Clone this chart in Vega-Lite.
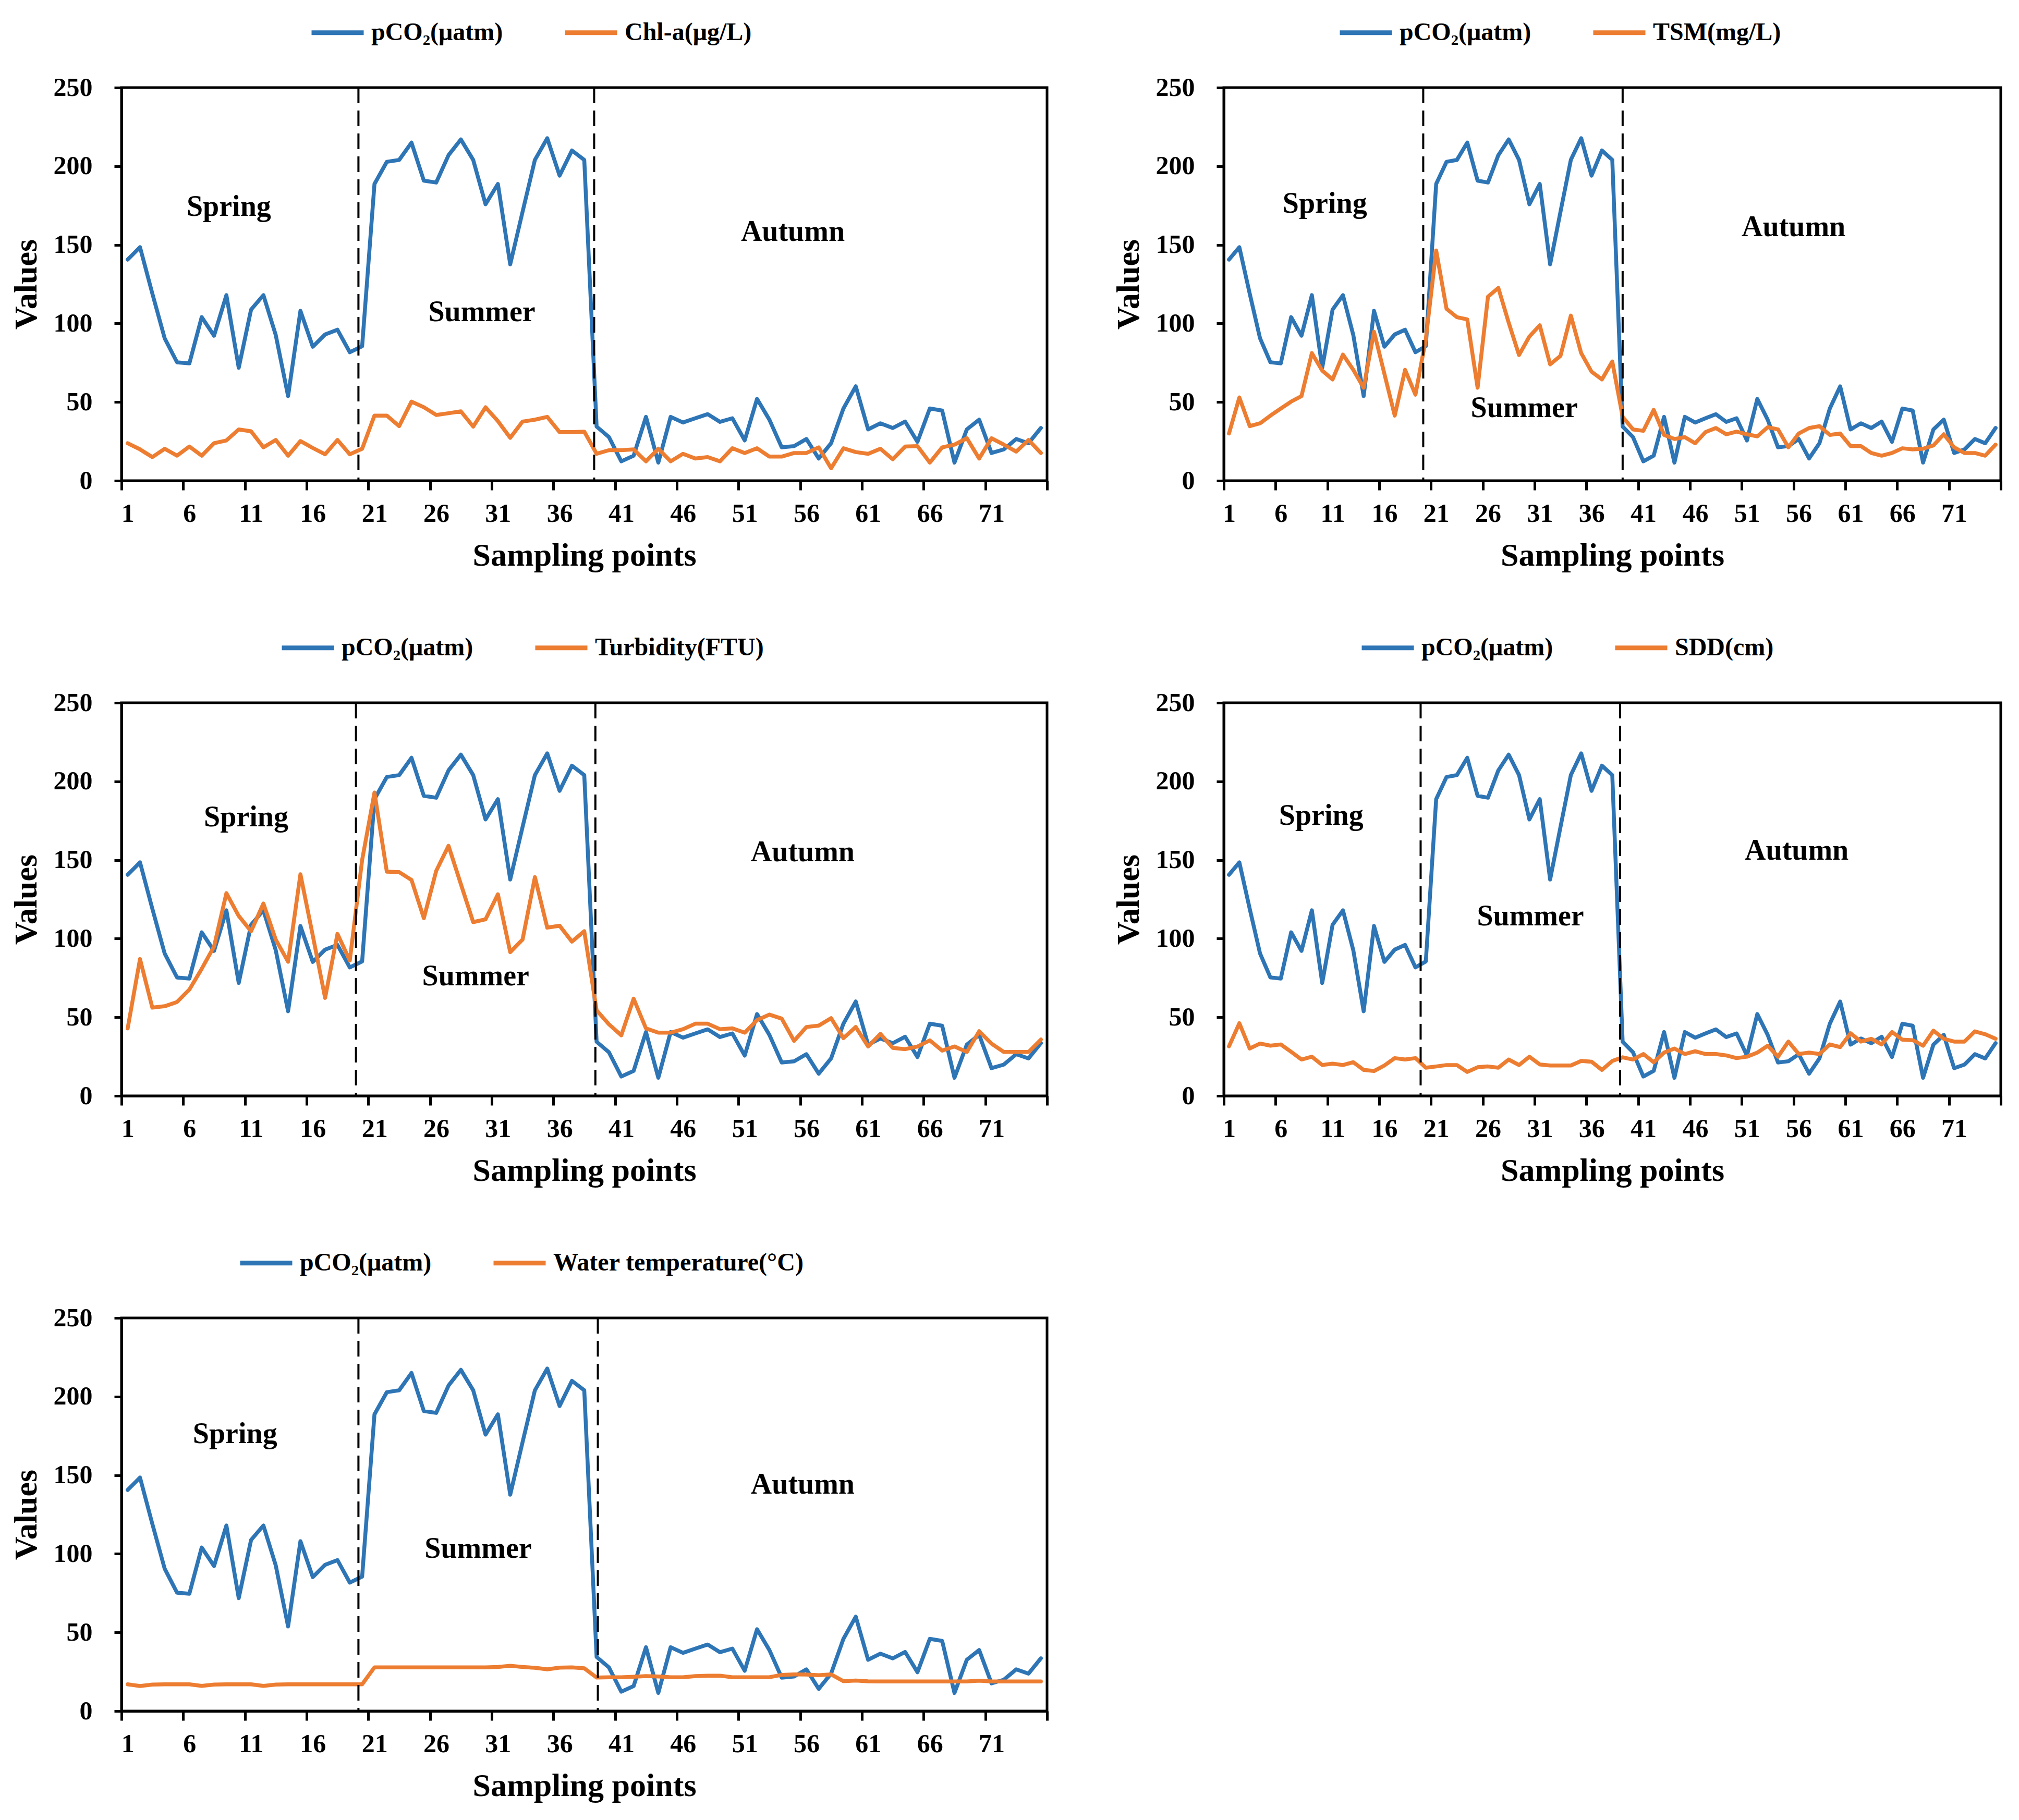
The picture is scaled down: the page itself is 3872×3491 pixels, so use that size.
{
  "$schema": "https://vega.github.io/schema/vega-lite/v6.json",
  "background": "white",
  "padding": {"left": 16, "top": 5, "right": 25, "bottom": 15},
  "datasets": {
    "main": [
      {"point": 1, "pco2": 140.6, "chla": 23.8, "tsm": 30, "turb": 42.9, "sdd": 31.5, "wt": 17},
      {"point": 2, "pco2": 148.5, "chla": 19.9, "tsm": 52.9, "turb": 87, "sdd": 46.2, "wt": 15.9},
      {"point": 3, "pco2": 119, "chla": 15, "tsm": 34.7, "turb": 56.1, "sdd": 30.1, "wt": 16.8},
      {"point": 4, "pco2": 90.5, "chla": 20.3, "tsm": 36.5, "turb": 57, "sdd": 33.3, "wt": 17},
      {"point": 5, "pco2": 75.3, "chla": 15.9, "tsm": 41.4, "turb": 59.7, "sdd": 31.9, "wt": 17},
      {"point": 6, "pco2": 74.6, "chla": 21.7, "tsm": 45.9, "turb": 67.6, "sdd": 32.7, "wt": 17},
      {"point": 7, "pco2": 104, "chla": 15.9, "tsm": 50.3, "turb": 80.8, "sdd": 28, "wt": 16},
      {"point": 8, "pco2": 92.2, "chla": 23.8, "tsm": 53.8, "turb": 95, "sdd": 23.1, "wt": 16.8},
      {"point": 9, "pco2": 118, "chla": 25.6, "tsm": 81.1, "turb": 128.9, "sdd": 24.9, "wt": 17},
      {"point": 10, "pco2": 71.8, "chla": 32.6, "tsm": 70, "turb": 114.4, "sdd": 19.6, "wt": 17},
      {"point": 11, "pco2": 108.8, "chla": 31.4, "tsm": 64.4, "turb": 104.7, "sdd": 20.5, "wt": 17},
      {"point": 12, "pco2": 118, "chla": 21.2, "tsm": 80.2, "turb": 122.3, "sdd": 19.6, "wt": 16},
      {"point": 13, "pco2": 92.6, "chla": 25.9, "tsm": 70.5, "turb": 99.4, "sdd": 21.4, "wt": 16.8},
      {"point": 14, "pco2": 53.8, "chla": 15.9, "tsm": 59.1, "turb": 85.3, "sdd": 16.5, "wt": 17},
      {"point": 15, "pco2": 108, "chla": 25.2, "tsm": 94.7, "turb": 140.9, "sdd": 15.8, "wt": 17},
      {"point": 16, "pco2": 85.2, "chla": 20.8, "tsm": 68, "turb": 102, "sdd": 19.3, "wt": 17},
      {"point": 17, "pco2": 93, "chla": 16.8, "tsm": 41.4, "turb": 62.3, "sdd": 24, "wt": 17},
      {"point": 18, "pco2": 96, "chla": 25.9, "tsm": 70.5, "turb": 103, "sdd": 23.1, "wt": 17},
      {"point": 19, "pco2": 81.7, "chla": 16.8, "tsm": 54.7, "turb": 86.1, "sdd": 24, "wt": 17},
      {"point": 20, "pco2": 85.5, "chla": 20.3, "tsm": 90, "turb": 150, "sdd": 17.9, "wt": 17},
      {"point": 21, "pco2": 188.7, "chla": 41.4, "tsm": 146.4, "turb": 192.9, "sdd": 18.7, "wt": 27.8},
      {"point": 22, "pco2": 202.8, "chla": 41.4, "tsm": 109.3, "turb": 142.6, "sdd": 19.6, "wt": 27.8},
      {"point": 23, "pco2": 204, "chla": 34.7, "tsm": 104, "turb": 142.3, "sdd": 19.6, "wt": 27.8},
      {"point": 24, "pco2": 215, "chla": 50.3, "tsm": 102.6, "turb": 137.3, "sdd": 15.2, "wt": 27.8},
      {"point": 25, "pco2": 190.8, "chla": 46.7, "tsm": 59.1, "turb": 113, "sdd": 18.2, "wt": 27.8},
      {"point": 26, "pco2": 189.6, "chla": 41.8, "tsm": 117, "turb": 143, "sdd": 18.7, "wt": 27.8},
      {"point": 27, "pco2": 207, "chla": 42.9, "tsm": 122.6, "turb": 159, "sdd": 17.9, "wt": 27.8},
      {"point": 28, "pco2": 217, "chla": 44.1, "tsm": 100.5, "turb": 134.7, "sdd": 23.1, "wt": 27.8},
      {"point": 29, "pco2": 204, "chla": 34.4, "tsm": 79.9, "turb": 110.5, "sdd": 19.6, "wt": 27.8},
      {"point": 30, "pco2": 175.8, "chla": 46.7, "tsm": 91.7, "turb": 112.3, "sdd": 24.9, "wt": 27.8},
      {"point": 31, "pco2": 188.7, "chla": 37.9, "tsm": 98.8, "turb": 128.2, "sdd": 20, "wt": 28},
      {"point": 32, "pco2": 137.6, "chla": 27.3, "tsm": 74, "turb": 91.4, "sdd": 19.3, "wt": 28.8},
      {"point": 33, "pco2": 171, "chla": 37.6, "tsm": 79.4, "turb": 99.4, "sdd": 19.3, "wt": 28},
      {"point": 34, "pco2": 204, "chla": 38.8, "tsm": 105, "turb": 139.1, "sdd": 19.3, "wt": 27.5},
      {"point": 35, "pco2": 217.8, "chla": 40.6, "tsm": 81.1, "turb": 107, "sdd": 22.2, "wt": 26.5},
      {"point": 36, "pco2": 194, "chla": 30.9, "tsm": 69.3, "turb": 108.2, "sdd": 21.7, "wt": 27.6},
      {"point": 37, "pco2": 210, "chla": 30.9, "tsm": 64.4, "turb": 98.1, "sdd": 16.5, "wt": 27.8},
      {"point": 38, "pco2": 204, "chla": 31.2, "tsm": 75.8, "turb": 104.7, "sdd": 22.2, "wt": 27.2},
      {"point": 39, "pco2": 34.4, "chla": 17.1, "tsm": 40.6, "turb": 54.4, "sdd": 24.5, "wt": 21.3},
      {"point": 40, "pco2": 27.7, "chla": 19.4, "tsm": 32.6, "turb": 45.5, "sdd": 23.1, "wt": 21.5},
      {"point": 41, "pco2": 12.3, "chla": 19.4, "tsm": 31.7, "turb": 38.5, "sdd": 26.6, "wt": 21.5},
      {"point": 42, "pco2": 15.9, "chla": 19.9, "tsm": 45, "turb": 61.8, "sdd": 21.4, "wt": 21.8},
      {"point": 43, "pco2": 40.6, "chla": 12.3, "tsm": 29.1, "turb": 42.9, "sdd": 27.5, "wt": 22.2},
      {"point": 44, "pco2": 11.5, "chla": 20.3, "tsm": 26.5, "turb": 40.2, "sdd": 30.1, "wt": 22},
      {"point": 45, "pco2": 40.6, "chla": 12.3, "tsm": 27.7, "turb": 40.2, "sdd": 26.6, "wt": 21.5},
      {"point": 46, "pco2": 37, "chla": 17.1, "tsm": 23.8, "turb": 42.4, "sdd": 28.4, "wt": 21.5},
      {"point": 47, "pco2": 39.7, "chla": 14.1, "tsm": 30.9, "turb": 45.9, "sdd": 26.6, "wt": 22.2},
      {"point": 48, "pco2": 42.3, "chla": 15, "tsm": 33.5, "turb": 45.9, "sdd": 26.6, "wt": 22.5},
      {"point": 49, "pco2": 37.4, "chla": 12.3, "tsm": 29.5, "turb": 42.4, "sdd": 25.7, "wt": 22.5},
      {"point": 50, "pco2": 39.7, "chla": 20.6, "tsm": 31.2, "turb": 42.9, "sdd": 24, "wt": 21.5},
      {"point": 51, "pco2": 25.6, "chla": 17.6, "tsm": 29.5, "turb": 40.2, "sdd": 24.9, "wt": 21.5},
      {"point": 52, "pco2": 52, "chla": 20.6, "tsm": 28.2, "turb": 48.2, "sdd": 27.5, "wt": 21.5},
      {"point": 53, "pco2": 38.8, "chla": 15.3, "tsm": 34, "turb": 51.7, "sdd": 31.9, "wt": 21.5},
      {"point": 54, "pco2": 21.2, "chla": 15.3, "tsm": 32.6, "turb": 49.1, "sdd": 24.9, "wt": 23},
      {"point": 55, "pco2": 22, "chla": 17.6, "tsm": 21.2, "turb": 35, "sdd": 34.5, "wt": 23.3},
      {"point": 56, "pco2": 26.5, "chla": 17.6, "tsm": 30, "turb": 43.8, "sdd": 26.6, "wt": 23.2},
      {"point": 57, "pco2": 14.1, "chla": 21.2, "tsm": 33.5, "turb": 44.7, "sdd": 27.5, "wt": 22.8},
      {"point": 58, "pco2": 23.8, "chla": 7.9, "tsm": 34.7, "turb": 49.4, "sdd": 26.6, "wt": 23.3},
      {"point": 59, "pco2": 45.9, "chla": 20.6, "tsm": 29.1, "turb": 36.7, "sdd": 32.7, "wt": 19},
      {"point": 60, "pco2": 60, "chla": 18.2, "tsm": 30, "turb": 43.8, "sdd": 31, "wt": 19.4},
      {"point": 61, "pco2": 32.6, "chla": 17.1, "tsm": 22, "turb": 31.4, "sdd": 39.8, "wt": 18.9},
      {"point": 62, "pco2": 36.5, "chla": 20.3, "tsm": 22, "turb": 39.4, "sdd": 34.5, "wt": 18.8},
      {"point": 63, "pco2": 33.5, "chla": 13.6, "tsm": 17.6, "turb": 30.5, "sdd": 36.3, "wt": 18.8},
      {"point": 64, "pco2": 37.6, "chla": 21.7, "tsm": 15.9, "turb": 29.7, "sdd": 32.7, "wt": 18.8},
      {"point": 65, "pco2": 24.7, "chla": 22, "tsm": 17.6, "turb": 31.4, "sdd": 40.6, "wt": 18.8},
      {"point": 66, "pco2": 45.9, "chla": 11.5, "tsm": 20.6, "turb": 35.3, "sdd": 35.7, "wt": 18.8},
      {"point": 67, "pco2": 44.6, "chla": 21.2, "tsm": 19.9, "turb": 28.8, "sdd": 35.4, "wt": 18.8},
      {"point": 68, "pco2": 11.5, "chla": 22.9, "tsm": 20.3, "turb": 31.4, "sdd": 31.9, "wt": 18.8},
      {"point": 69, "pco2": 32.6, "chla": 27, "tsm": 22.4, "turb": 27.9, "sdd": 41.5, "wt": 18.8},
      {"point": 70, "pco2": 38.8, "chla": 14.1, "tsm": 29.5, "turb": 41.1, "sdd": 36.3, "wt": 19.3},
      {"point": 71, "pco2": 17.6, "chla": 27, "tsm": 21.2, "turb": 33.2, "sdd": 34.5, "wt": 18.8},
      {"point": 72, "pco2": 19.9, "chla": 22.9, "tsm": 17.6, "turb": 27.9, "sdd": 34.5, "wt": 18.8},
      {"point": 73, "pco2": 26.5, "chla": 18.5, "tsm": 17.6, "turb": 27.9, "sdd": 41, "wt": 18.8},
      {"point": 74, "pco2": 23.8, "chla": 25.9, "tsm": 15.9, "turb": 27.9, "sdd": 39.2, "wt": 18.8},
      {"point": 75, "pco2": 33.5, "chla": 17.6, "tsm": 22.9, "turb": 35.8, "sdd": 36.3, "wt": 18.8}
    ],
    "labels": [
      {"panel": 1, "label": "Spring", "x": 9.2, "y": 174},
      {"panel": 1, "label": "Summer", "x": 29.7, "y": 107},
      {"panel": 1, "label": "Autumn", "x": 54.9, "y": 158},
      {"panel": 2, "label": "Spring", "x": 10.25, "y": 176},
      {"panel": 2, "label": "Summer", "x": 29.5, "y": 46},
      {"panel": 2, "label": "Autumn", "x": 55.5, "y": 161},
      {"panel": 3, "label": "Spring", "x": 10.6, "y": 177},
      {"panel": 3, "label": "Summer", "x": 29.2, "y": 76},
      {"panel": 3, "label": "Autumn", "x": 55.7, "y": 155},
      {"panel": 4, "label": "Spring", "x": 9.9, "y": 178},
      {"panel": 4, "label": "Summer", "x": 30.1, "y": 114},
      {"panel": 4, "label": "Autumn", "x": 55.8, "y": 156},
      {"panel": 5, "label": "Spring", "x": 9.7, "y": 176},
      {"panel": 5, "label": "Summer", "x": 29.4, "y": 103},
      {"panel": 5, "label": "Autumn", "x": 55.7, "y": 144}
    ],
    "rules": [
      {"panel": 1, "x": 19.7}, {"panel": 1, "x": 38.8},
      {"panel": 2, "x": 19.75}, {"panel": 2, "x": 39.0},
      {"panel": 3, "x": 19.5}, {"panel": 3, "x": 38.9},
      {"panel": 4, "x": 19.5}, {"panel": 4, "x": 38.75},
      {"panel": 5, "x": 19.7}, {"panel": 5, "x": 39.1}
    ]
  },
  "columns": 2,
  "spacing": {"row": 426, "column": 339},
  "bounds": "flush",
  "resolve": {"scale": {"x": "independent", "y": "independent", "color": "independent"}},
  "concat": [
    {
      "width": 1775, "height": 754,
      "data": {"name": "main"},
      "layer": [
        {"mark": {"type": "line", "strokeWidth": 7.5, "strokeJoin": "round", "strokeCap": "round"},
         "encoding": {
           "x": {"field": "point", "type": "quantitative", "title": "Sampling points", "scale": {"domain": [0.5, 75.5], "nice": false, "zero": false},
                 "axis": {"values": [0.5, 5.5, 10.5, 15.5, 20.5, 25.5, 30.5, 35.5, 40.5, 45.5, 50.5, 55.5, 60.5, 65.5, 70.5, 75.5], "labelExpr": "datum.value > 75 ? '' : format(datum.value + 0.5, 'd')", "labelOffset": 11.83}},
           "y": {"field": "pco2", "type": "quantitative", "title": "Values", "scale": {"domain": [0, 250], "nice": false}, "axis": {"values": [0, 50, 100, 150, 200, 250]}},
           "color": {"datum": "pCO₂(μatm)", "scale": {"domain": ["pCO₂(μatm)", "Chl-a(μg/L)"], "range": ["#2E75B6", "#ED7D31"]},
                     "legend": {"orient": "none", "legendX": 360, "legendY": -160, "direction": "horizontal", "title": null}}
         }},
        {"mark": {"type": "line", "strokeWidth": 7.5, "strokeJoin": "round", "strokeCap": "round"},
         "encoding": {
           "x": {"field": "point", "type": "quantitative", "title": "Sampling points", "scale": {"domain": [0.5, 75.5], "nice": false, "zero": false}},
           "y": {"field": "chla", "type": "quantitative", "title": "Values", "scale": {"domain": [0, 250], "nice": false}},
           "color": {"datum": "Chl-a(μg/L)"}
         }},
        {"data": {"name": "labels"}, "transform": [{"filter": "datum.panel == 1"}],
         "mark": {"type": "text", "font": "Liberation Serif", "fontWeight": "bold", "fontSize": 56, "color": "black"},
         "encoding": {
           "x": {"field": "x", "type": "quantitative", "title": "Sampling points", "scale": {"domain": [0.5, 75.5], "nice": false, "zero": false}},
           "y": {"field": "y", "type": "quantitative", "title": "Values", "scale": {"domain": [0, 250], "nice": false}},
           "text": {"field": "label"}
         }},
        {"data": {"name": "rules"}, "transform": [{"filter": "datum.panel == 1"}],
         "mark": {"type": "rule", "strokeDash": [30, 14], "strokeWidth": 4, "color": "black"},
         "encoding": {"x": {"field": "x", "type": "quantitative", "title": "Sampling points", "scale": {"domain": [0.5, 75.5], "nice": false, "zero": false}}}}
      ]
    },
    {
      "width": 1490, "height": 754,
      "data": {"name": "main"},
      "layer": [
        {"mark": {"type": "line", "strokeWidth": 7.5, "strokeJoin": "round", "strokeCap": "round"},
         "encoding": {
           "x": {"field": "point", "type": "quantitative", "title": "Sampling points", "scale": {"domain": [0.5, 75.5], "nice": false, "zero": false},
                 "axis": {"values": [0.5, 5.5, 10.5, 15.5, 20.5, 25.5, 30.5, 35.5, 40.5, 45.5, 50.5, 55.5, 60.5, 65.5, 70.5, 75.5], "labelExpr": "datum.value > 75 ? '' : format(datum.value + 0.5, 'd')", "labelOffset": 9.93}},
           "y": {"field": "pco2", "type": "quantitative", "title": "Values", "scale": {"domain": [0, 250], "nice": false}, "axis": {"values": [0, 50, 100, 150, 200, 250]}},
           "color": {"datum": "pCO₂(μatm)", "scale": {"domain": ["pCO₂(μatm)", "TSM(mg/L)"], "range": ["#2E75B6", "#ED7D31"]},
                     "legend": {"orient": "none", "legendX": 218, "legendY": -160, "direction": "horizontal", "title": null}}
         }},
        {"mark": {"type": "line", "strokeWidth": 7.5, "strokeJoin": "round", "strokeCap": "round"},
         "encoding": {
           "x": {"field": "point", "type": "quantitative", "title": "Sampling points", "scale": {"domain": [0.5, 75.5], "nice": false, "zero": false}},
           "y": {"field": "tsm", "type": "quantitative", "title": "Values", "scale": {"domain": [0, 250], "nice": false}},
           "color": {"datum": "TSM(mg/L)"}
         }},
        {"data": {"name": "labels"}, "transform": [{"filter": "datum.panel == 2"}],
         "mark": {"type": "text", "font": "Liberation Serif", "fontWeight": "bold", "fontSize": 56, "color": "black"},
         "encoding": {
           "x": {"field": "x", "type": "quantitative", "title": "Sampling points", "scale": {"domain": [0.5, 75.5], "nice": false, "zero": false}},
           "y": {"field": "y", "type": "quantitative", "title": "Values", "scale": {"domain": [0, 250], "nice": false}},
           "text": {"field": "label"}
         }},
        {"data": {"name": "rules"}, "transform": [{"filter": "datum.panel == 2"}],
         "mark": {"type": "rule", "strokeDash": [30, 14], "strokeWidth": 4, "color": "black"},
         "encoding": {"x": {"field": "x", "type": "quantitative", "title": "Sampling points", "scale": {"domain": [0.5, 75.5], "nice": false, "zero": false}}}}
      ]
    },
    {
      "width": 1775, "height": 754,
      "data": {"name": "main"},
      "layer": [
        {"mark": {"type": "line", "strokeWidth": 7.5, "strokeJoin": "round", "strokeCap": "round"},
         "encoding": {
           "x": {"field": "point", "type": "quantitative", "title": "Sampling points", "scale": {"domain": [0.5, 75.5], "nice": false, "zero": false},
                 "axis": {"values": [0.5, 5.5, 10.5, 15.5, 20.5, 25.5, 30.5, 35.5, 40.5, 45.5, 50.5, 55.5, 60.5, 65.5, 70.5, 75.5], "labelExpr": "datum.value > 75 ? '' : format(datum.value + 0.5, 'd')", "labelOffset": 11.83}},
           "y": {"field": "pco2", "type": "quantitative", "title": "Values", "scale": {"domain": [0, 250], "nice": false}, "axis": {"values": [0, 50, 100, 150, 200, 250]}},
           "color": {"datum": "pCO₂(μatm)", "scale": {"domain": ["pCO₂(μatm)", "Turbidity(FTU)"], "range": ["#2E75B6", "#ED7D31"]},
                     "legend": {"orient": "none", "legendX": 303, "legendY": -160, "direction": "horizontal", "title": null}}
         }},
        {"mark": {"type": "line", "strokeWidth": 7.5, "strokeJoin": "round", "strokeCap": "round"},
         "encoding": {
           "x": {"field": "point", "type": "quantitative", "title": "Sampling points", "scale": {"domain": [0.5, 75.5], "nice": false, "zero": false}},
           "y": {"field": "turb", "type": "quantitative", "title": "Values", "scale": {"domain": [0, 250], "nice": false}},
           "color": {"datum": "Turbidity(FTU)"}
         }},
        {"data": {"name": "labels"}, "transform": [{"filter": "datum.panel == 3"}],
         "mark": {"type": "text", "font": "Liberation Serif", "fontWeight": "bold", "fontSize": 56, "color": "black"},
         "encoding": {
           "x": {"field": "x", "type": "quantitative", "title": "Sampling points", "scale": {"domain": [0.5, 75.5], "nice": false, "zero": false}},
           "y": {"field": "y", "type": "quantitative", "title": "Values", "scale": {"domain": [0, 250], "nice": false}},
           "text": {"field": "label"}
         }},
        {"data": {"name": "rules"}, "transform": [{"filter": "datum.panel == 3"}],
         "mark": {"type": "rule", "strokeDash": [30, 14], "strokeWidth": 4, "color": "black"},
         "encoding": {"x": {"field": "x", "type": "quantitative", "title": "Sampling points", "scale": {"domain": [0.5, 75.5], "nice": false, "zero": false}}}}
      ]
    },
    {
      "width": 1490, "height": 754,
      "data": {"name": "main"},
      "layer": [
        {"mark": {"type": "line", "strokeWidth": 7.5, "strokeJoin": "round", "strokeCap": "round"},
         "encoding": {
           "x": {"field": "point", "type": "quantitative", "title": "Sampling points", "scale": {"domain": [0.5, 75.5], "nice": false, "zero": false},
                 "axis": {"values": [0.5, 5.5, 10.5, 15.5, 20.5, 25.5, 30.5, 35.5, 40.5, 45.5, 50.5, 55.5, 60.5, 65.5, 70.5, 75.5], "labelExpr": "datum.value > 75 ? '' : format(datum.value + 0.5, 'd')", "labelOffset": 9.93}},
           "y": {"field": "pco2", "type": "quantitative", "title": "Values", "scale": {"domain": [0, 250], "nice": false}, "axis": {"values": [0, 50, 100, 150, 200, 250]}},
           "color": {"datum": "pCO₂(μatm)", "scale": {"domain": ["pCO₂(μatm)", "SDD(cm)"], "range": ["#2E75B6", "#ED7D31"]},
                     "legend": {"orient": "none", "legendX": 260, "legendY": -160, "direction": "horizontal", "title": null}}
         }},
        {"mark": {"type": "line", "strokeWidth": 7.5, "strokeJoin": "round", "strokeCap": "round"},
         "encoding": {
           "x": {"field": "point", "type": "quantitative", "title": "Sampling points", "scale": {"domain": [0.5, 75.5], "nice": false, "zero": false}},
           "y": {"field": "sdd", "type": "quantitative", "title": "Values", "scale": {"domain": [0, 250], "nice": false}},
           "color": {"datum": "SDD(cm)"}
         }},
        {"data": {"name": "labels"}, "transform": [{"filter": "datum.panel == 4"}],
         "mark": {"type": "text", "font": "Liberation Serif", "fontWeight": "bold", "fontSize": 56, "color": "black"},
         "encoding": {
           "x": {"field": "x", "type": "quantitative", "title": "Sampling points", "scale": {"domain": [0.5, 75.5], "nice": false, "zero": false}},
           "y": {"field": "y", "type": "quantitative", "title": "Values", "scale": {"domain": [0, 250], "nice": false}},
           "text": {"field": "label"}
         }},
        {"data": {"name": "rules"}, "transform": [{"filter": "datum.panel == 4"}],
         "mark": {"type": "rule", "strokeDash": [30, 14], "strokeWidth": 4, "color": "black"},
         "encoding": {"x": {"field": "x", "type": "quantitative", "title": "Sampling points", "scale": {"domain": [0.5, 75.5], "nice": false, "zero": false}}}}
      ]
    },
    {
      "width": 1775, "height": 754,
      "data": {"name": "main"},
      "layer": [
        {"mark": {"type": "line", "strokeWidth": 7.5, "strokeJoin": "round", "strokeCap": "round"},
         "encoding": {
           "x": {"field": "point", "type": "quantitative", "title": "Sampling points", "scale": {"domain": [0.5, 75.5], "nice": false, "zero": false},
                 "axis": {"values": [0.5, 5.5, 10.5, 15.5, 20.5, 25.5, 30.5, 35.5, 40.5, 45.5, 50.5, 55.5, 60.5, 65.5, 70.5, 75.5], "labelExpr": "datum.value > 75 ? '' : format(datum.value + 0.5, 'd')", "labelOffset": 11.83}},
           "y": {"field": "pco2", "type": "quantitative", "title": "Values", "scale": {"domain": [0, 250], "nice": false}, "axis": {"values": [0, 50, 100, 150, 200, 250]}},
           "color": {"datum": "pCO₂(μatm)", "scale": {"domain": ["pCO₂(μatm)", "Water temperature(°C)"], "range": ["#2E75B6", "#ED7D31"]},
                     "legend": {"orient": "none", "legendX": 223, "legendY": -160, "direction": "horizontal", "title": null}}
         }},
        {"mark": {"type": "line", "strokeWidth": 7.5, "strokeJoin": "round", "strokeCap": "round"},
         "encoding": {
           "x": {"field": "point", "type": "quantitative", "title": "Sampling points", "scale": {"domain": [0.5, 75.5], "nice": false, "zero": false}},
           "y": {"field": "wt", "type": "quantitative", "title": "Values", "scale": {"domain": [0, 250], "nice": false}},
           "color": {"datum": "Water temperature(°C)"}
         }},
        {"data": {"name": "labels"}, "transform": [{"filter": "datum.panel == 5"}],
         "mark": {"type": "text", "font": "Liberation Serif", "fontWeight": "bold", "fontSize": 56, "color": "black"},
         "encoding": {
           "x": {"field": "x", "type": "quantitative", "title": "Sampling points", "scale": {"domain": [0.5, 75.5], "nice": false, "zero": false}},
           "y": {"field": "y", "type": "quantitative", "title": "Values", "scale": {"domain": [0, 250], "nice": false}},
           "text": {"field": "label"}
         }},
        {"data": {"name": "rules"}, "transform": [{"filter": "datum.panel == 5"}],
         "mark": {"type": "rule", "strokeDash": [30, 14], "strokeWidth": 4, "color": "black"},
         "encoding": {"x": {"field": "x", "type": "quantitative", "title": "Sampling points", "scale": {"domain": [0.5, 75.5], "nice": false, "zero": false}}}}
      ]
    }
  ],
  "config": {
    "view": {"stroke": "black", "strokeWidth": 5},
    "axis": {
      "labelFont": "Liberation Serif", "labelFontWeight": "bold", "labelFontSize": 50, "labelColor": "black",
      "titleFont": "Liberation Serif", "titleFontWeight": "bold", "titleFontSize": 62, "titleColor": "black",
      "domainColor": "black", "domainWidth": 5, "tickColor": "black", "tickWidth": 5,
      "grid": false, "labelFlush": false, "labelOverlap": false
    },
    "axisX": {"tickSize": 18, "labelPadding": 20, "titlePadding": 25},
    "axisY": {"tickSize": 14, "labelPadding": 42, "titlePadding": 20},
    "legend": {
      "labelFont": "Liberation Serif", "labelFontWeight": "bold", "labelFontSize": 48, "labelColor": "black",
      "symbolType": "stroke", "symbolSize": 10000, "symbolStrokeWidth": 9,
      "columnPadding": 100, "labelOffset": 10, "labelLimit": 1000
    }
  }
}
